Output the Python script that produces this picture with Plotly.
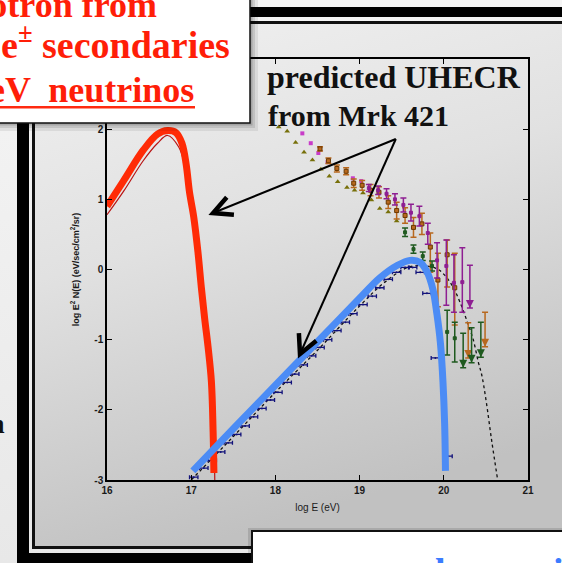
import base64
import math
import plotly.graph_objects as go

# ---------------- data ----------------
red_x = [16.0, 16.2, 16.43, 16.6, 16.72, 16.82, 16.89, 16.94, 16.98, 17.03, 17.08, 17.12, 17.16, 17.2, 17.24, 17.26, 17.27]
red_y = [0.90, 1.27, 1.70, 1.93, 1.98, 1.95, 1.80, 1.50, 1.10, 0.75, 0.25, -0.25, -0.70, -1.10, -1.60, -2.30, -2.90]

redthin_x = [16.0, 16.2, 16.43, 16.6, 16.72, 16.85, 16.92, 16.96, 17.0, 17.05, 17.1, 17.15, 17.2, 17.24, 17.27, 17.28]
redthin_y = [0.78, 1.12, 1.55, 1.80, 1.91, 1.75, 1.50, 1.10, 0.80, 0.45, 0.00, -0.55, -1.10, -1.65, -2.40, -3.00]

blue_x = [17.02, 17.5, 18.0, 18.5, 19.0, 19.24, 19.45, 19.60, 19.72, 19.80, 19.87, 19.92, 19.96, 19.99, 20.01, 20.02]
blue_y = [-2.87, -2.27, -1.65, -1.03, -0.41, -0.12, 0.06, 0.13, 0.10, -0.03, -0.28, -0.65, -1.05, -1.60, -2.20, -2.87]

dot_x = [17.0, 17.5, 18.0, 18.5, 19.0, 19.3, 19.6, 19.9, 20.01, 20.11, 20.19, 20.28, 20.35, 20.41, 20.45, 20.5, 20.57, 20.64]
dot_y = [-3.0, -2.38, -1.75, -1.15, -0.52, -0.18, 0.04, 0.02, -0.08, -0.25, -0.46, -0.75, -1.0, -1.32, -1.50, -1.85, -2.45, -3.0]

nb_x = [17.03, 17.15, 17.25, 17.35, 17.44, 17.54, 17.64, 17.74, 17.84, 17.94, 18.03, 18.14, 18.23, 18.33, 18.43, 18.53,
        18.62, 18.73, 18.83, 18.92, 19.04, 19.15, 19.24, 19.34, 19.44, 19.54, 19.63, 19.72, 19.80, 19.90, 20.05]
nb_y = [-2.96, -2.83, -2.72, -2.60, -2.47, -2.35, -2.23, -2.10, -1.98, -1.86, -1.75, -1.61, -1.49, -1.36, -1.23, -1.11,
        -1.00, -0.87, -0.75, -0.63, -0.50, -0.38, -0.26, -0.14, -0.04, 0.03, 0.03, -0.04, -0.34, -1.26, -2.66]
nb_halfwidth = 0.05

tri_x = [18.04, 18.14, 18.24, 18.34, 18.44, 18.54, 18.64, 18.74, 18.85, 18.94, 19.04, 19.14, 19.24, 19.34, 19.44]
tri_y = [2.03, 1.97, 1.81, 1.67, 1.56, 1.43, 1.33, 1.25, 1.17, 1.13, 1.09, 0.99, 0.87, 0.82, 0.69]

msq_x = [18.32, 18.42, 18.51, 18.62, 18.92, 19.02]
msq_y = [1.94, 1.80, 1.66, 1.53, 1.30, 1.26]

mag_x = [19.11, 19.22, 19.32, 19.42, 19.52, 19.61, 19.71, 19.81, 19.92, 20.03, 20.12, 20.22]
mag_y = [1.16, 1.13, 1.08, 1.00, 0.92, 0.81, 0.76, 0.52, 0.13, 0.05, -0.19, -0.18]
mag_hi = [1.21, 1.19, 1.15, 1.08, 1.02, 0.93, 0.90, 0.66, 0.38, 0.42, 0.21, 0.31]
mag_lo = [1.11, 1.07, 1.01, 0.92, 0.82, 0.69, 0.62, 0.36, -0.12, -0.51, -0.61, -0.61]

org_x = [18.53, 18.63, 18.73, 18.84, 18.93, 19.03, 19.13, 19.23, 19.34, 19.44, 19.54, 19.64, 19.74, 19.84, 19.93, 20.04, 20.13]
org_y = [1.72, 1.55, 1.44, 1.40, 1.23, 1.20, 1.13, 1.10, 0.96, 0.84, 0.77, 0.60, 0.65, 0.32, -0.15, 0.21, -0.26]
org_hi = [1.75, 1.59, 1.49, 1.45, 1.29, 1.27, 1.21, 1.18, 1.05, 0.96, 0.88, 0.74, 0.80, 0.52, 0.23, 0.42, 0.23]
org_lo = [1.69, 1.51, 1.39, 1.35, 1.17, 1.13, 1.05, 1.02, 0.87, 0.72, 0.66, 0.46, 0.50, -0.04, -0.53, -0.25, -0.79]

grn_x = [19.54, 19.64, 19.75, 19.86, 20.04, 20.13]
grn_y = [0.53, 0.29, 0.19, 0.05, -0.89, -0.98]
grn_hi = [0.59, 0.35, 0.25, 0.12, -0.58, -0.75]
grn_lo = [0.47, 0.23, 0.13, -0.02, -1.22, -1.32]

# upper limits (top of bar, arrow tip)
mag_lim_x = [20.31]
mag_lim_top = [0.06]
mag_lim_bot = [-0.55]
org_lim_x = [20.29, 20.49]
org_lim_top = [-0.76, -0.61]
org_lim_bot = [-1.26, -1.10]
grn_lim_x = [20.23, 20.33, 20.44]
grn_lim_top = [-0.91, -0.83, -0.75]
grn_lim_bot = [-1.40, -1.33, -1.25]

x_ticks = [16, 17, 18, 19, 20, 21]
x_labels = ["16", "17", "18", "19", "20", "21"]
y_ticks = [-3, -2, -1, 0, 1, 2, 3]
y_labels = ["-3", "-2", "-1", "0", "1", "2", ""]   # the "3" label is hidden under the text box

# arrow annotations: (tail) -> (tip) in data units
arrow_tail = (19.43, 1.86)
arrow_tips = [(17.259, 0.805), (18.292, -1.204)]

# ---------------- geometry ----------------
W, H = 562, 563
L, R, T, B = 107, 34, 59, 83
PW, PH = W - L - R, H - T - B
XR = (16, 21)
YR = (-3, 3)


def pxp(x):  # pixel -> paper x
    return (x - L) / PW


def pyp(y):  # pixel -> paper y
    return 1 - (y - T) / PH


def d2px(xd, yd):
    return (L + (xd - XR[0]) / (XR[1] - XR[0]) * PW,
            T + (YR[1] - yd) / (YR[1] - YR[0]) * PH)


def rect(x0, y0, x1, y1, fill, line_color=None, lw=0, layer="above"):
    return dict(type="rect", xref="paper", yref="paper",
                x0=pxp(x0), x1=pxp(x1), y0=pyp(y1), y1=pyp(y0),
                fillcolor=fill, layer=layer,
                line=dict(color=line_color or fill, width=lw))


# ---------------- background (gradient slide) ----------------
svg = f'''<svg xmlns="http://www.w3.org/2000/svg" width="{W}" height="{H}" viewBox="0 0 {W} {H}" preserveAspectRatio="none">
<defs>
<linearGradient id="o" x1="0" y1="0" x2="0" y2="1"><stop offset="0" stop-color="#f5f5f5"/><stop offset="1" stop-color="#e8e8e8"/></linearGradient>
<linearGradient id="g" x1="0" y1="0" x2="0.3" y2="1"><stop offset="0" stop-color="#f1f1f1"/><stop offset="0.45" stop-color="#e1e1e1"/><stop offset="1" stop-color="#c1c1c1"/></linearGradient>
</defs>
<rect x="0" y="0" width="{W}" height="{H}" fill="url(#o)"/>
<rect x="35" y="24" width="{W-35}" height="{548-24}" fill="url(#g)"/>
</svg>'''
svg_uri = "data:image/svg+xml;base64," + base64.b64encode(svg.encode()).decode()

fig = go.Figure()

navy = "#12127a"
mag_c = "#8e1e92"
mag_sq_c = "#c83cc8"
org_c = "#b8681e"
grn_c = "#1f5a1f"
olive = "#77700a"

fig.add_trace(go.Scatter(x=dot_x, y=dot_y, mode="lines", line_shape="spline",
                         line=dict(color="#111", width=1.3, dash="dot"), hoverinfo="skip"))

fig.add_trace(go.Scatter(x=nb_x, y=nb_y, mode="markers", marker=dict(size=2, color=navy),
                         error_x=dict(type="constant", value=nb_halfwidth, color=navy, thickness=1.3, width=2)))

fig.add_trace(go.Scatter(x=tri_x, y=tri_y, mode="markers",
                         marker=dict(symbol="triangle-up", size=5, color=olive)))
fig.add_trace(go.Scatter(x=msq_x, y=msq_y, mode="markers",
                         marker=dict(symbol="square", size=4, color=mag_sq_c)))


def err_trace(xs, ys, hi, lo, color, size, edge=None):
    return go.Scatter(x=xs, y=ys, mode="markers",
                      marker=dict(symbol="square", size=size, color=color,
                                  line=dict(color=edge or color, width=1)),
                      error_y=dict(type="data", symmetric=False,
                                   array=[h - y for h, y in zip(hi, ys)],
                                   arrayminus=[y - l for l, y in zip(lo, ys)],
                                   color=color, thickness=1.5, width=3))


def lim_trace(xs, top, bot, color):
    return go.Scatter(x=xs, y=bot, mode="markers",
                      marker=dict(symbol="arrow-down", size=8, color=color),
                      error_y=dict(type="data", symmetric=False,
                                   array=[t - b for t, b in zip(top, bot)],
                                   arrayminus=[0] * len(xs),
                                   color=color, thickness=1.5, width=3))


fig.add_trace(err_trace(org_x, org_y, org_hi, org_lo, org_c, 4, "#6a3800"))
fig.add_trace(err_trace(mag_x, mag_y, mag_hi, mag_lo, mag_c, 3))
fig.add_trace(err_trace(grn_x, grn_y, grn_hi, grn_lo, grn_c, 3))
fig.add_trace(lim_trace(mag_lim_x, mag_lim_top, mag_lim_bot, mag_c))
fig.add_trace(lim_trace(org_lim_x, org_lim_top, org_lim_bot, org_c))
fig.add_trace(lim_trace(grn_lim_x, grn_lim_top, grn_lim_bot, grn_c))

fig.add_trace(go.Scatter(x=redthin_x, y=redthin_y, mode="lines", line_shape="spline",
                         line=dict(color="#b81414", width=1.2)))
fig.add_trace(go.Scatter(x=red_x, y=red_y, mode="lines", line_shape="spline",
                         line=dict(color="#ff2b06", width=7)))
fig.add_trace(go.Scatter(x=blue_x, y=blue_y, mode="lines", line_shape="spline",
                         line=dict(color="#4c8cf5", width=7)))

# ---------------- frame & boxes ----------------
shapes = [
    rect(17, 7, W, 17, "#000"),
    rect(32, 21, W, 24, "#111"),
    rect(17, 7, 29, H, "#000"),
    rect(32, 21, 35, 549, "#111"),
    rect(32, 546, W, 549, "#111"),
    rect(17, 553, W, H, "#000"),
    # shadow of red box
    rect(0, 0, 258, 131, "rgba(0,0,0,0.07)"),
    rect(0, 0, 255, 128, "rgba(0,0,0,0.10)"),
    rect(0, 0, 252.5, 125.5, "rgba(0,0,0,0.15)"),
    rect(-2, -2, 250, 123, "#ffffff", "#111", 1.5),
    # underline
    rect(0, 106, 195, 108.5, "#ff2a10"),
    # bottom-right box
    rect(248, 528, W + 5, H + 5, "rgba(0,0,0,0.12)"),
    rect(252, 531, W + 5, H + 5, "#ffffff", "#111", 2),
]

# arrow shafts and chevron heads
for (tx, ty) in arrow_tips:
    shapes.append(dict(type="line", xref="x", yref="y", x0=arrow_tail[0], y0=arrow_tail[1],
                       x1=tx, y1=ty, line=dict(color="#000", width=2), layer="above"))
    tpx, tpy = d2px(tx, ty)
    spx, spy = d2px(*arrow_tail)
    ang = math.atan2(spy - tpy, spx - tpx)
    pts = []
    for s in (+1, -1):
        a = ang + s * math.radians(27)
        pts.append((tpx + 21 * math.cos(a), tpy + 21 * math.sin(a)))
    path = (f"M{pxp(pts[0][0])},{pyp(pts[0][1])} L{pxp(tpx)},{pyp(tpy)} "
            f"L{pxp(pts[1][0])},{pyp(pts[1][1])}")
    shapes.append(dict(type="path", xref="paper", yref="paper", path=path,
                       line=dict(color="#000", width=4.5), layer="above"))

SERIF = "Liberation Serif"


def txt(text, x, baseline, size, color, xanchor="left"):
    # place so the text baseline lands near `baseline` (pixels)
    return dict(text=text, xref="paper", yref="paper", x=pxp(x), y=pyp(baseline + 0.26 * size + 1),
                xanchor=xanchor, yanchor="bottom", showarrow=False,
                font=dict(family=SERIF, size=size, color=color, weight="bold"))


RED = "#ff1e08"
annotations = [
    txt("Synchrotron from", 159, 17, 36, RED, "right"),
    txt("e<sup>±</sup> secondaries", -1, 57, 38, RED, "left"),
    txt("EeV  neutrinos", 196, 102, 36, RED, "right"),
    txt("predicted UHECR", 265, 88, 32, "#111"),
    txt("from Mrk 421", 266, 125, 30, "#111"),
    txt("n", 7, 433, 28, "#111", "right"),
    txt("γ,  e±  and  neutrinos", 278, 584, 38, "#3b7cff"),
]

axis_common = dict(showline=True, linewidth=1.5, linecolor="#000", mirror="ticks",
                   ticks="inside", ticklen=5, tickwidth=1.2, tickcolor="#000",
                   showgrid=False, zeroline=False,
                   tickfont=dict(family="Liberation Sans", size=10, color="#1a1a1a", weight="bold"))

fig.update_layout(
    width=W, height=H, margin=dict(l=L, r=R, t=T, b=B, pad=0),
    showlegend=False,
    paper_bgcolor="#e8e8e8", plot_bgcolor="rgba(0,0,0,0)",
    xaxis=dict(range=list(XR), tickvals=x_ticks, ticktext=x_labels,
               title=dict(text="log E (eV)", standoff=9,
                          font=dict(family="Liberation Sans", size=10, color="#1a1a1a")),
               **axis_common),
    yaxis=dict(range=list(YR), tickvals=y_ticks, ticktext=y_labels,
               title=dict(text="log E<sup>2</sup> N(E) (eV/sec/cm<sup>2</sup>/sr)", standoff=13,
                          font=dict(family="Liberation Sans", size=9, color="#1a1a1a", weight="bold")),
               **axis_common),
    images=[dict(source=svg_uri, xref="paper", yref="paper", x=pxp(0), y=pyp(0),
                 sizex=W / PW, sizey=H / PH, xanchor="left", yanchor="top",
                 sizing="stretch", layer="below")],
    shapes=shapes,
    annotations=annotations,
)

fig.write_html("out.html")
